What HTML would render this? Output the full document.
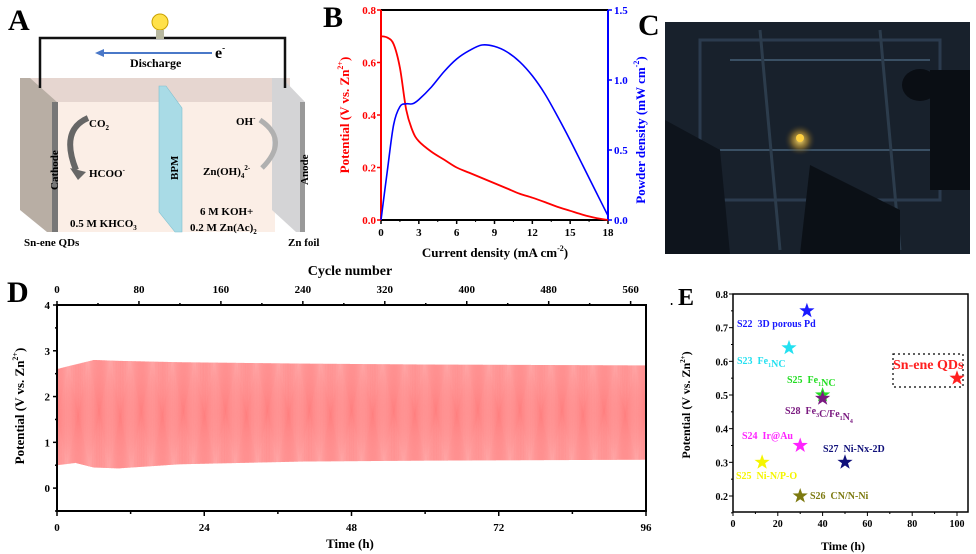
<!DOCTYPE html>
<html><head><meta charset="utf-8"><style>
html,body{margin:0;padding:0;background:#fff;}
svg{display:block;font-family:"Liberation Serif",serif;font-weight:bold;}
</style></head><body>
<svg id="fig" width="976" height="554" viewBox="0 0 976 554" xmlns="http://www.w3.org/2000/svg">
<defs>
<radialGradient id="glow" cx="50%" cy="50%" r="50%"><stop offset="0" stop-color="#ffe070"/><stop offset="0.5" stop-color="#b08a30" stop-opacity="0.6"/><stop offset="1" stop-color="#222" stop-opacity="0"/></radialGradient>
</defs>

<g>
<text x="8" y="30" font-size="30">A</text>
<rect x="30" y="78" width="260" height="26" fill="#e6d6d0"/>
<rect x="57" y="102" width="218" height="130" fill="#fbeee6"/>
<polygon points="20,78 30,78 57,102 57,232 47,232 20,210" fill="#b8aea4"/>
<rect x="52" y="102" width="6" height="130" fill="#777"/>
<polygon points="272,78 282,78 305,102 305,232 296,232 272,210" fill="#d4d4d6"/>
<rect x="300" y="102" width="5" height="130" fill="#999"/>
<polygon points="159,86 166,86 182,108 182,232 175,232 159,212" fill="#a9dbe6" stroke="#7fc0d0" stroke-width="0.6"/>
<polyline points="40,88 40,38 285,38 285,88" fill="none" stroke="#111" stroke-width="2.5"/>
<circle cx="160" cy="22" r="8" fill="#ffe14a" stroke="#c9a000"/>
<rect x="156" y="30" width="8" height="9" fill="#b9b9a0"/>
<line x1="212" y1="53" x2="100" y2="53" stroke="#4a78c8" stroke-width="2"/>
<polygon points="95,53 104,49 104,57" fill="#4a78c8"/>
<text x="215" y="58" font-size="16">e<tspan font-size="9" dy="-7">-</tspan></text>
<text x="130" y="67" font-size="12">Discharge</text>
<path d="M88,118 Q60,130 76,170" fill="none" stroke="#666" stroke-width="6"/>
<polygon points="70,168 86,172 78,180" fill="#666"/>
<text x="89" y="127" font-size="11">CO<tspan font-size="7" dy="3">2</tspan></text>
<text x="89" y="177" font-size="11">HCOO<tspan font-size="7" dy="-5">-</tspan></text>
<path d="M260,120 Q290,140 262,168" fill="none" stroke="#b0b0b0" stroke-width="5"/>
<text x="236" y="125" font-size="11">OH<tspan font-size="7" dy="-5">-</tspan></text>
<text x="203" y="175" font-size="11">Zn(OH)<tspan font-size="7" dy="3">4</tspan><tspan font-size="7" dy="-8">2-</tspan></text>
<text x="0" y="0" font-size="11" transform="translate(58,190) rotate(-90)">Cathode</text>
<text x="0" y="0" font-size="11" transform="translate(178,180) rotate(-90)">BPM</text>
<text x="0" y="0" font-size="11" transform="translate(308,185) rotate(-90)">Anode</text>
<text x="70" y="227" font-size="11">0.5 M KHCO<tspan font-size="7" dy="3">3</tspan></text>
<text x="200" y="215" font-size="11">6 M KOH+</text>
<text x="190" y="231" font-size="11">0.2 M Zn(Ac)<tspan font-size="7" dy="3">2</tspan></text>
<text x="24" y="246" font-size="11">Sn-ene QDs</text>
<text x="288" y="246" font-size="11">Zn foil</text>
</g>

<g id="pb">
<text x="323" y="27" font-size="30">B</text>
</g>

<g>
<text x="638" y="35" font-size="30">C</text>
<rect x="665" y="22" width="305" height="232" fill="#18212c"/>
<rect x="700" y="40" width="240" height="160" fill="none" stroke="#33475c" stroke-width="3" opacity="0.7"/>
<line x1="730" y1="60" x2="930" y2="60" stroke="#3a5064" stroke-width="2"/>
<line x1="720" y1="150" x2="950" y2="150" stroke="#3a5064" stroke-width="2"/>
<line x1="760" y1="30" x2="780" y2="250" stroke="#2c3c4c" stroke-width="3"/>
<line x1="880" y1="30" x2="900" y2="250" stroke="#2c3c4c" stroke-width="3"/>
<polygon points="810,165 900,210 900,254 800,254" fill="#0b1016"/>
<polygon points="665,120 720,150 730,254 665,254" fill="#0e141c"/>
<rect x="930" y="70" width="40" height="120" fill="#0a0e14"/>
<ellipse cx="920" cy="85" rx="18" ry="16" fill="#0a0e14"/>
<circle cx="800" cy="140" r="16" fill="url(#glow)"/>
<circle cx="800" cy="138" r="4" fill="#ffd040"/>
</g>

<g id="pd">
<text x="7" y="302" font-size="30">D</text>
</g>

<g id="pe">
<text x="678" y="305" font-size="24">E</text>
</g>
</svg>
<script>
const NS="http://www.w3.org/2000/svg";
// ---- Panel B data ----
const bCurrent=[0,0.5,1,1.5,2,2.5,3,4,5,6,7,8,9,10,11,12,13,14,15,16,17,18];
const bPotential=[0.70,0.695,0.67,0.58,0.42,0.34,0.30,0.26,0.23,0.20,0.18,0.16,0.14,0.12,0.10,0.085,0.068,0.05,0.035,0.02,0.008,0.0];
const bPowerX=[0,0.5,1,1.5,2,2.5,3,4,5,6,7,8,9,10,11,12,13,14,15,16,17,18];
const bPower=[0,0.35,0.68,0.81,0.83,0.83,0.86,0.95,1.06,1.15,1.21,1.25,1.24,1.20,1.13,1.03,0.90,0.74,0.57,0.39,0.21,0.03];
const bXTicks=[0,3,6,9,12,15,18];
const bYLeftTicks=[0.0,0.2,0.4,0.6,0.8];
const bYRightTicks=[0.0,0.5,1.0,1.5];
// ---- Panel D data ----
const dEnvTime=[0,3,6,10,20,40,60,96];
const dUpper=[2.6,2.7,2.8,2.78,2.75,2.72,2.7,2.68];
const dLower=[0.5,0.55,0.45,0.43,0.52,0.58,0.6,0.62];
const dCycles=575;
const dXTicks=[0,24,48,72,96];
const dCycleTicks=[0,80,160,240,320,400,480,560];
const dYTicks=[0,1,2,3,4];
// ---- Panel E data ----
const eNames=["S22  3D porous Pd","S23  Fe1NC","S25  Fe1NC","S28  Fe3C/Fe1N4","S24  Ir@Au","S27  Ni-Nx-2D","S25  Ni-N/P-O","S26  CN/N-Ni","Sn-ene QDs"];
const eTime=[33,25,40,40,30,50,13,30,100];
const ePotential=[0.75,0.64,0.5,0.49,0.35,0.3,0.3,0.2,0.55];
const eColors=["#1a1aff","#22e0f0","#22dd22","#7a1a80","#ff22ff","#10107a","#f5f500","#7d7a10","#ff2020"];
const eXTicks=[0,20,40,60,80,100];
const eYTicks=[0.2,0.3,0.4,0.5,0.6,0.7,0.8];

function el(tag,attrs,parent){const e=document.createElementNS(NS,tag);for(const k in attrs)e.setAttribute(k,attrs[k]);parent.appendChild(e);return e;}
function txt(parent,x,y,s,size,anchor,fill){const t=el("text",{x:x,y:y,"font-size":size,"text-anchor":anchor||"middle",fill:fill||"#000"},parent);t.textContent=s;return t;}
function interp(xs,ys,x){for(let i=0;i<xs.length-1;i++){if(x<=xs[i+1]){const f=(x-xs[i])/(xs[i+1]-xs[i]);return ys[i]+f*(ys[i+1]-ys[i]);}}return ys[ys.length-1];}
function smoothPath(pts){let d="M"+pts[0][0]+","+pts[0][1];for(let i=0;i<pts.length-1;i++){const p0=pts[i-1]||pts[i],p1=pts[i],p2=pts[i+1],p3=pts[i+2]||p2;const c1x=p1[0]+(p2[0]-p0[0])/6,c1y=p1[1]+(p2[1]-p0[1])/6,c2x=p2[0]-(p3[0]-p1[0])/6,c2y=p2[1]-(p3[1]-p1[1])/6;d+=` C${c1x},${c1y} ${c2x},${c2y} ${p2[0]},${p2[1]}`;}return d;}

(function(){
const g=document.getElementById("pb");
const X0=381,X1=608,Y0=220,Y1=10;
const bx=v=>X0+(v-0)/18*(X1-X0);
const byl=v=>Y0-(v/0.8)*(Y0-Y1);
const byr=v=>Y0-(v/1.5)*(Y0-Y1);
let e=el("line",{x1:X0,y1:Y1,x2:X1,y2:Y1,stroke:"#000","stroke-width":2},g);


e=el("line",{x1:X0,y1:Y0,x2:X1,y2:Y0,stroke:"#000","stroke-width":2},g);


e=el("line",{x1:X0,y1:Y1,x2:X0,y2:Y0,stroke:"#ff0000","stroke-width":2},g);


e=el("line",{x1:X1,y1:Y1,x2:X1,y2:Y0,stroke:"#0000ff","stroke-width":2},g);


bXTicks.forEach((v,i)=>{el("line",{x1:bx(v),y1:Y0,x2:bx(v),y2:Y0+4,stroke:"#000","stroke-width":1.5},g);
 if(i<bXTicks.length-1)el("line",{x1:bx(v+1.5),y1:Y0,x2:bx(v+1.5),y2:Y0+2,stroke:"#000"},g);
 const t=txt(g,bx(v),Y0+16,String(v),11);});
bYLeftTicks.forEach(v=>{el("line",{x1:X0-4,y1:byl(v),x2:X0,y2:byl(v),stroke:"#ff0000","stroke-width":1.5},g);
 const t=txt(g,X0-5,byl(v)+4,v.toFixed(1),11,"end","#ff0000");});
bYRightTicks.forEach(v=>{el("line",{x1:X1,y1:byr(v),x2:X1+4,y2:byr(v),stroke:"#0000ff","stroke-width":1.5},g);
 const t=txt(g,X1+6,byr(v)+4,v.toFixed(1),11,"start","#0000ff");});
const pv=el("path",{d:smoothPath(bCurrent.map((c,i)=>[bx(c),byl(bPotential[i])])),fill:"none",stroke:"#ff0000","stroke-width":1.8},g);


const pw=el("path",{d:smoothPath(bPowerX.map((c,i)=>[bx(c),byr(bPower[i])])),fill:"none",stroke:"#0000ff","stroke-width":1.6},g);


let t=el("text",{x:495,y:257,"font-size":13,"text-anchor":"middle"},g);
t.innerHTML='Current density (mA cm<tspan font-size="8" dy="-6">-2</tspan><tspan dy="6">)</tspan>';


t=el("text",{x:0,y:0,"font-size":13,"text-anchor":"middle",fill:"#ff0000",transform:"translate(349,115) rotate(-90)"},g);
t.innerHTML='Potential (V vs. Zn<tspan font-size="8" dy="-6">2+</tspan><tspan dy="6">)</tspan>';


t=el("text",{x:0,y:0,"font-size":13,"text-anchor":"middle",fill:"#0000ff",transform:"translate(645,130) rotate(-90)"},g);
t.innerHTML='Powder density (mW cm<tspan font-size="8" dy="-6">-2</tspan><tspan dy="6">)</tspan>';


})();

(function(){
const g=document.getElementById("pd");
const X0=57,X1=646,Y0=511,Y1=305;
const dx=v=>X0+v/96*(X1-X0);
const dy=v=>Y0-(v+0.5)/4.5*(Y0-Y1);
const cx=c=>X0+c/575*(X1-X0);
let d="";
for(let c=0;c<dCycles;c++){const t0=c/dCycles*96,t1=(c+0.5)/dCycles*96;
 d+=(c===0?"M":"L")+dx(t0).toFixed(2)+","+dy(interp(dEnvTime,dLower,t0)).toFixed(1)+" L"+dx(t1).toFixed(2)+","+dy(interp(dEnvTime,dUpper,t1)).toFixed(1)+" ";}
const osc=el("path",{d:d,fill:"none",stroke:"#ff1a1a","stroke-width":0.35,opacity:0.8},g);


const fr=el("rect",{x:X0,y:Y1,width:X1-X0,height:Y0-Y1,fill:"none",stroke:"#000","stroke-width":2},g);


dXTicks.forEach((v,i)=>{el("line",{x1:dx(v),y1:Y0,x2:dx(v),y2:Y0+5,stroke:"#000","stroke-width":1.5},g);
 if(i<dXTicks.length-1)el("line",{x1:dx(v+12),y1:Y0,x2:dx(v+12),y2:Y0+3,stroke:"#000","stroke-width":1.5},g);
 const t=txt(g,dx(v),Y0+20,String(v),11);});
dCycleTicks.forEach(v=>{el("line",{x1:cx(v),y1:Y1,x2:cx(v),y2:Y1-4,stroke:"#000","stroke-width":1.5},g);
 el("line",{x1:cx(v+40),y1:Y1,x2:cx(v+40),y2:Y1-2,stroke:"#000","stroke-width":1.5},g);
 const t=txt(g,cx(v),Y1-12,String(v),11);});
dYTicks.forEach(v=>{el("line",{x1:X0-4,y1:dy(v),x2:X0,y2:dy(v),stroke:"#000","stroke-width":1.5},g);
 el("line",{x1:X0-2,y1:dy(v-0.5),x2:X0,y2:dy(v-0.5),stroke:"#000","stroke-width":1.5},g);
 const t=txt(g,X0-7,dy(v)+4,String(v),11,"end");});
let t=txt(g,350,275,"Cycle number",14);


t=txt(g,350,548,"Time (h)",13);


t=el("text",{x:0,y:0,"font-size":13,"text-anchor":"middle",transform:"translate(24,406) rotate(-90)"},g);
t.innerHTML='Potential (V vs. Zn<tspan font-size="8" dy="-6">2+</tspan><tspan dy="6">)</tspan>';


})();

(function(){
const g=document.getElementById("pe");
const X0=733,X1=968,Y0=512,Y1=294;
const ex=v=>X0+v/100*(957-X0);
const ey=v=>496-(v-0.2)/0.6*(496-294);
const fr=el("rect",{x:X0,y:Y1,width:X1-X0,height:Y0-Y1,fill:"none",stroke:"#000","stroke-width":1.5},g);


eXTicks.forEach(v=>{el("line",{x1:ex(v),y1:Y0,x2:ex(v),y2:Y0+4,stroke:"#000"},g);
 if(v<100)el("line",{x1:ex(v+10),y1:Y0,x2:ex(v+10),y2:Y0+2,stroke:"#000"},g);
 const t=txt(g,ex(v),Y0+15,String(v),10);});
eYTicks.forEach(v=>{el("line",{x1:X0-4,y1:ey(v),x2:X0,y2:ey(v),stroke:"#000"},g);
 el("line",{x1:X0-2,y1:ey(v-0.05),x2:X0,y2:ey(v-0.05),stroke:"#000"},g);
 const t=txt(g,X0-5,ey(v)+4,v.toFixed(1),10,"end");});
const box=el("rect",{x:893,y:354,width:70,height:33,fill:"none",stroke:"#000","stroke-dasharray":"2,3","stroke-width":1.2},g);


const labelPos=[[737,327],[737,364],[787,383],[785,414],[742,439],[823,452],[736,479],[810,499],[893,369]];
eTime.forEach((tv,i)=>{const cxp=ex(tv),cyp=ey(ePotential[i]);let pts="";
 for(let k=0;k<10;k++){const r=k%2?3.2:8,a=-Math.PI/2+k*Math.PI/5;pts+=(cxp+r*Math.cos(a)).toFixed(1)+","+(cyp+r*Math.sin(a)).toFixed(1)+" ";}
 const s=el("polygon",{points:pts,fill:eColors[i]},g);
 
 
 const lt=el("text",{x:labelPos[i][0],y:labelPos[i][1],"font-size":i===8?14:10,"text-anchor":"start",fill:i===8?"#ff2020":eColors[i],"xml:space":"preserve"},g);
 lt.innerHTML=eNames[i].replace(/ /g,"\u00a0").replace(/(Fe|N)(\d)/g,'$1<tspan font-size="6" dy="3">$2</tspan><tspan dy="-3"></tspan>');
 
 });
let t=txt(g,843,550,"Time (h)",12);


t=el("text",{x:0,y:0,"font-size":12,"text-anchor":"middle",transform:"translate(690,405) rotate(-90)"},g);
t.innerHTML='Potential (V vs. Zn<tspan font-size="7" dy="-5">2+</tspan><tspan dy="5">)</tspan>';


})();
</script>
</body></html>
